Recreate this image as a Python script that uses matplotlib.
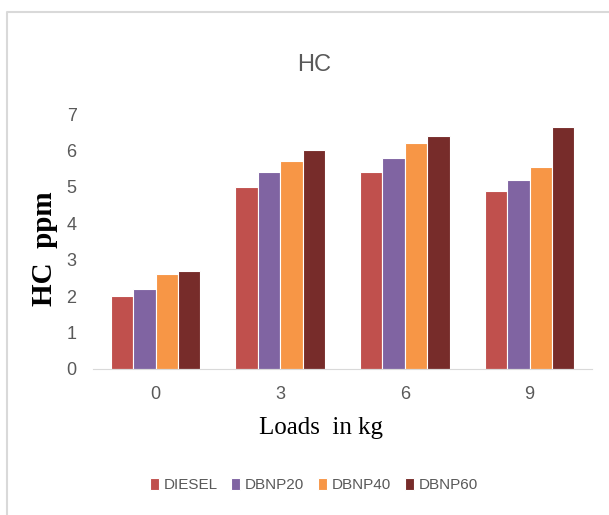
import numpy as np
import matplotlib.pyplot as plt
from matplotlib.lines import Line2D

loads = ["0", "3", "6", "9"]
diesel = [2.0, 5.0, 5.4, 4.9]
dbnp20 = [2.2, 5.4, 5.8, 5.2]
dbnp40 = [2.6, 5.7, 6.2, 5.55]
dbnp60 = [2.7, 6.0, 6.4, 6.65]

series = [("DIESEL", diesel, "#C0504D"),
          ("DBNP20", dbnp20, "#8064A2"),
          ("DBNP40", dbnp40, "#F79646"),
          ("DBNP60", dbnp60, "#772C2A")]

sans = ["Liberation Sans", "DejaVu Sans"]
serif = ["Liberation Serif", "DejaVu Serif"]

fig = plt.figure(figsize=(6.09, 5.15), dpi=100)
ax = fig.add_axes([0.153, 0.2835, 0.819, 0.495])

# chart border (only top and left edges are visible in the crop)
fig.lines.append(Line2D([0.012, 0.012, 1.0], [0.0, 0.976, 0.976], transform=fig.transFigure,
                        color="#d9d9d9", linewidth=1.5))

x = np.arange(len(loads))
w = 0.18
for i, (name, vals, col) in enumerate(series):
    ax.bar(x + (i - 1.5) * w, vals, width=w, color=col, edgecolor="white",
           linewidth=0.8, label=name)

ax.set_xlim(-0.5, 3.5)
ax.set_ylim(0, 7)
ax.set_yticks(range(8))
ax.set_xticks(x)
ax.set_xticklabels(loads)
for s in ["top", "right", "left"]:
    ax.spines[s].set_visible(False)
ax.spines["bottom"].set_color("#d9d9d9")
ax.tick_params(length=0, labelsize=13, colors="#595959")
ax.tick_params(axis="x", pad=12)
ax.tick_params(axis="y", pad=12)
for lab in ax.get_xticklabels() + ax.get_yticklabels():
    lab.set_family(sans)

fig.text(0.515, 0.873, "HC", ha="center", va="center", fontsize=17,
         color="#595959", family=sans)
fig.text(0.073, 0.518, "HC  ppm", ha="center", va="center", rotation=90,
         fontsize=21, fontweight="bold", family=serif)
fig.text(0.527, 0.168, "Loads  in kg", ha="center", va="center",
         fontsize=18, family=serif)

leg = fig.legend(loc="center", bbox_to_anchor=(0.515, 0.058), ncol=4, frameon=False,
                 prop={"family": sans, "size": 11}, handlelength=0.6,
                 handleheight=0.8, handletextpad=0.3, columnspacing=0.9)
for t in leg.get_texts():
    t.set_color("#595959")

fig.savefig("out.png", dpi=100)
